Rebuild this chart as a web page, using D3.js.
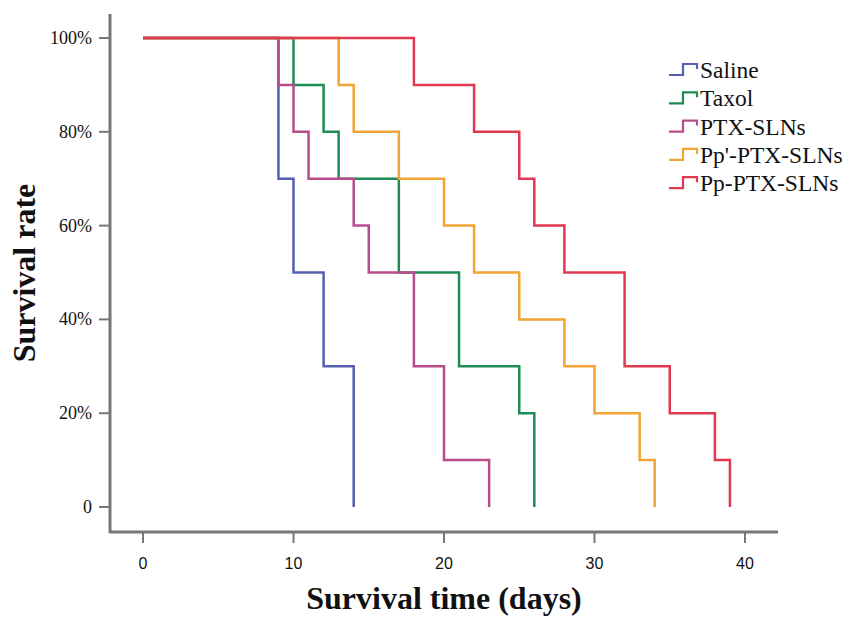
<!DOCTYPE html>
<html>
<head>
<meta charset="utf-8">
<script src="https://cdn.jsdelivr.net/npm/d3@7"></script>
<style>
  body { margin: 0; background: #fff; }
  svg { display: block; }
</style>
</head>
<body>
<svg width="847" height="617"></svg>
<script>
// survival data: day of each drop and the rate (%) after it
var seriesNames = ["Saline", "Taxol", "PTX-SLNs", "Pp'-PTX-SLNs", "Pp-PTX-SLNs"];
var seriesColors = ["#5560b0", "#1e8c55", "#b84d8c", "#f0a535", "#e23850"];

var salineDays = [0, 9, 10, 12, 14];
var salineRate = [100, 70, 50, 30, 0];

var taxolDays = [0, 10, 12, 13, 17, 21, 25, 26];
var taxolRate = [100, 90, 80, 70, 50, 30, 20, 0];

var ptxDays = [0, 9, 10, 11, 14, 15, 18, 20, 23];
var ptxRate = [100, 90, 80, 70, 60, 50, 30, 10, 0];

var ppPrimeDays = [0, 13, 14, 17, 20, 22, 25, 28, 30, 33, 34];
var ppPrimeRate = [100, 90, 80, 70, 60, 50, 40, 30, 20, 10, 0];

var ppDays = [0, 18, 22, 25, 26, 28, 32, 35, 38, 39];
var ppRate = [100, 90, 80, 70, 60, 50, 30, 20, 10, 0];

var xTicks = [0, 10, 20, 30, 40];
var yTicks = [0, 20, 40, 60, 80, 100];

var svg = d3.select("svg");

var x = d3.scaleLinear().domain([0, 40]).range([143, 745]);
var y = d3.scaleLinear().domain([0, 100]).range([507, 38]);

var axisColor = "#777";
var serif = "'Liberation Serif', 'Times New Roman', serif";

// axis frame
svg.append("path")
    .attr("d", "M110,14 V532 H778")
    .attr("fill", "none")
    .attr("stroke", axisColor)
    .attr("stroke-width", 3)
    .attr("stroke-linejoin", "round");

// y ticks
svg.selectAll(".ytick")
  .data(yTicks)
  .enter()
  .append("line")
    .attr("x1", 99).attr("x2", 110)
    .attr("y1", function(d){ return y(d) })
    .attr("y2", function(d){ return y(d) })
    .attr("stroke", axisColor)
    .attr("stroke-width", 2);

svg.selectAll(".ylab")
  .data(yTicks)
  .enter()
  .append("text")
    .attr("x", 92)
    .attr("y", function(d){ return y(d) + 6 })
    .attr("text-anchor", "end")
    .style("font-family", serif)
    .style("font-size", "18px")
    .style("fill", "#111")
    .text(function(d){ return d === 0 ? "0" : d + "%" });

// x ticks
svg.selectAll(".xtick")
  .data(xTicks)
  .enter()
  .append("line")
    .attr("x1", function(d){ return x(d) })
    .attr("x2", function(d){ return x(d) })
    .attr("y1", 532).attr("y2", 543)
    .attr("stroke", axisColor)
    .attr("stroke-width", 2);

svg.selectAll(".xlab")
  .data(xTicks)
  .enter()
  .append("text")
    .attr("x", function(d){ return x(d) })
    .attr("y", 569)
    .attr("text-anchor", "middle")
    .style("font-family", "'Liberation Sans', Arial, sans-serif")
    .style("font-size", "16px")
    .style("fill", "#111")
    .text(function(d){ return d });

// axis titles
svg.append("text")
    .attr("x", 444).attr("y", 609)
    .attr("text-anchor", "middle")
    .style("font-family", serif)
    .style("font-weight", "bold")
    .style("font-size", "32px")
    .style("fill", "#111")
    .text("Survival time (days)");

svg.append("text")
    .attr("transform", "translate(35,273) rotate(-90)")
    .attr("text-anchor", "middle")
    .style("font-family", serif)
    .style("font-weight", "bold")
    .style("font-size", "32px")
    .style("fill", "#111")
    .text("Survival rate");

// step curves
var allDays = [salineDays, taxolDays, ptxDays, ppPrimeDays, ppDays];
var allRates = [salineRate, taxolRate, ptxRate, ppPrimeRate, ppRate];

var line = d3.line()
    .x(function(d){ return x(d[0]) })
    .y(function(d){ return y(d[1]) })
    .curve(d3.curveStepAfter);

allDays.forEach(function(days, i) {
  var pts = days.map(function(d, j){ return [d, allRates[i][j]] });
  svg.append("path")
      .datum(pts)
      .attr("d", line)
      .attr("fill", "none")
      .attr("stroke", seriesColors[i])
      .attr("stroke-width", 2.5);
});

// legend
var legend = svg.append("g").attr("transform", "translate(669,78)");
var rows = legend.selectAll("g")
  .data(seriesNames)
  .enter()
  .append("g")
    .attr("transform", function(d, i){ return "translate(0," + (i * 28.3) + ")" });

rows.append("path")
    .attr("d", "M0,-3 H14 V-14 H28 V-9")
    .attr("fill", "none")
    .attr("stroke", function(d, i){ return seriesColors[i] })
    .attr("stroke-width", 2.2);

rows.append("text")
    .attr("x", 31)
    .attr("y", 0)
    .style("font-family", serif)
    .style("font-size", "23.5px")
    .style("fill", "#111")
    .text(function(d){ return d });
</script>
</body>
</html>
